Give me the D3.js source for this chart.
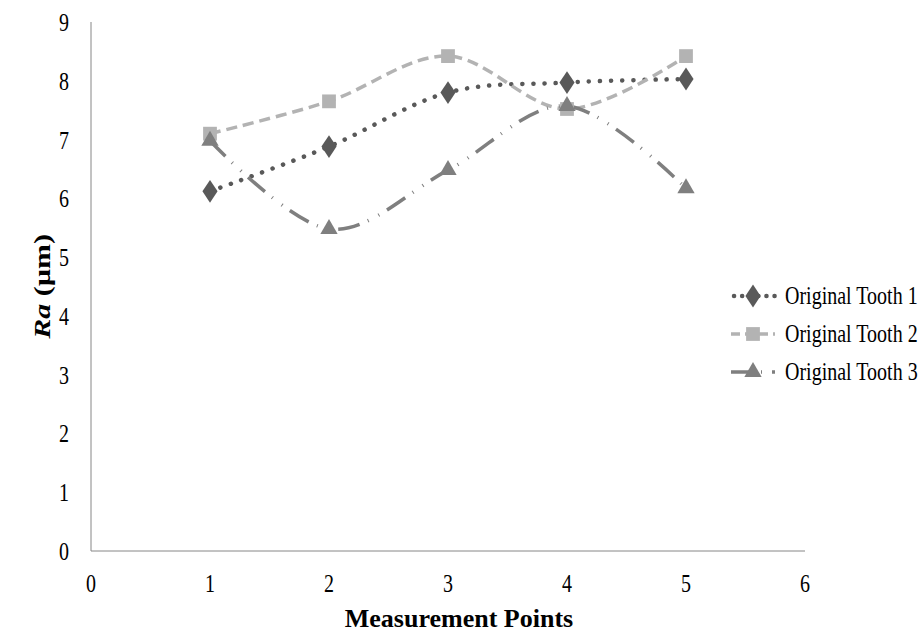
<!DOCTYPE html>
<html lang="en">
<head>
<meta charset="utf-8">
<title>Ra by measurement point</title>
<script src="https://cdn.jsdelivr.net/npm/d3@7/dist/d3.min.js"></script>
<style>
  body { margin: 0; background: #ffffff; }
  .tick_label { font-family: "Liberation Serif", "Times New Roman", serif; font-size: 20px; fill: #000; }
  .axis_title { font-family: "Liberation Serif", "Times New Roman", serif; font-weight: bold; fill: #000; }
  .legend_text { font-family: "Liberation Serif", "Times New Roman", serif; font-size: 20px; fill: #000; }
</style>
</head>
<body>
<script>
// data
var points = [1, 2, 3, 4, 5];
var seriesNames = ["Original Tooth 1", "Original Tooth 2", "Original Tooth 3"];
var tooth1 = [6.12, 6.88, 7.8, 7.97, 8.03];
var tooth2 = [7.1, 7.65, 8.42, 7.52, 8.42];
var tooth3 = [6.98, 5.48, 6.48, 7.57, 6.17];
var xTicks = [0, 1, 2, 3, 4, 5, 6];
var yTicks = [0, 1, 2, 3, 4, 5, 6, 7, 8, 9];

var svgWidth = 922, svgHeight = 632;
var plotLeft = 91, plotRight = 805, plotTop = 22, plotBottom = 551;
var stretch = 1.3;  // text in the picture is taller than it is wide

var svg = d3.select("body").append("svg")
    .attr("width", svgWidth)
    .attr("height", svgHeight);

var x = d3.scaleLinear().domain([0, 6]).range([plotLeft, plotRight]);
var y = d3.scaleLinear().domain([0, 9]).range([plotBottom, plotTop]);

// axes lines
svg.append("line")
  .attr("x1", x(0)).attr("x2", x(0)).attr("y1", y(9)).attr("y2", y(0))
  .attr("stroke", "#868686").attr("stroke-width", 1);
svg.append("line")
  .attr("x1", x(0)).attr("x2", x(6)).attr("y1", y(0)).attr("y2", y(0))
  .attr("stroke", "#868686").attr("stroke-width", 1);

svg.selectAll(".ylab").data(yTicks).enter().append("text")
  .attr("class", "tick_label")
  .attr("transform", function(d) { return "translate(" + (x(0) - 22) + "," + (y(d) + 9) + ") scale(1," + stretch + ")"; })
  .attr("text-anchor", "end")
  .text(function(d) { return d; });

svg.selectAll(".xlab").data(xTicks).enter().append("text")
  .attr("class", "tick_label")
  .attr("transform", function(d) { return "translate(" + x(d) + "," + (y(0) + 41) + ") scale(1," + stretch + ")"; })
  .attr("text-anchor", "middle")
  .text(function(d) { return d; });

svg.append("text")
  .attr("class", "axis_title")
  .attr("font-size", 26)
  .attr("x", (plotLeft + plotRight) / 2 + 11)
  .attr("y", 627)
  .attr("text-anchor", "middle")
  .text("Measurement Points");

var yTitle = svg.append("text")
  .attr("class", "axis_title")
  .attr("font-size", 24)
  .attr("text-anchor", "middle")
  .attr("transform", "translate(50," + ((plotTop + plotBottom) / 2) + ") rotate(-90) scale(1.25,1)");
yTitle.append("tspan").attr("font-style", "italic").text("Ra");
yTitle.append("tspan").text(" (\u00b5m)");

// series styling
var styles = [
  { values: tooth1, color: "#595959", width: 4.5, dash: "0.1 11", cap: "round", symbol: d3.symbolDiamond, size: 150 },
  { values: tooth2, color: "#b3b3b3", width: 3.5, dash: "11 6", cap: "butt", symbol: d3.symbolSquare, size: 190 },
  { values: tooth3, color: "#7f7f7f", width: 3.5, dash: "22 9 1 11 1 9", cap: "butt", symbol: d3.symbolTriangle, size: 130 }
];

var line = d3.line()
  .x(function(d, i) { return x(points[i]); })
  .y(function(d) { return y(d); })
  .curve(d3.curveCardinal.tension(0));

styles.forEach(function(s) {
  svg.append("path")
    .datum(s.values)
    .attr("d", line)
    .attr("fill", "none")
    .attr("stroke", s.color)
    .attr("stroke-width", s.width)
    .attr("stroke-dasharray", s.dash)
    .attr("stroke-linecap", s.cap);
});

styles.forEach(function(s) {
  svg.selectAll(null).data(s.values).enter().append("path")
    .attr("d", d3.symbol().type(s.symbol).size(s.size))
    .attr("transform", function(d, i) {
      var sc = s.symbol === d3.symbolDiamond ? " scale(1.15,1)" : "";
      return "translate(" + x(points[i]) + "," + y(d) + ")" + sc;
    })
    .attr("fill", s.color);
});

// legend
var legendY = [296, 334, 372];
styles.forEach(function(s, i) {
  var g = svg.append("g").attr("transform", "translate(731," + legendY[i] + ")");
  g.append("line")
    .attr("x1", 0).attr("x2", 44).attr("y1", 0).attr("y2", 0)
    .attr("stroke", s.color)
    .attr("stroke-width", s.width)
    .attr("stroke-dasharray", i === 0 ? "0.1 8" : (i === 1 ? "9 5" : "20 10 1 10"))
    .attr("stroke-dashoffset", i === 0 ? -3 : 0)
    .attr("stroke-linecap", s.cap);
  g.append("path")
    .attr("d", d3.symbol().type(s.symbol).size(s.size))
    .attr("transform", "translate(22,0)" + (s.symbol === d3.symbolDiamond ? " scale(1.15,1)" : ""))
    .attr("fill", s.color);
  g.append("text")
    .attr("class", "legend_text")
    .attr("transform", "translate(54,8) scale(1," + stretch + ")")
    .text(seriesNames[i]);
});
</script>
</body>
</html>
